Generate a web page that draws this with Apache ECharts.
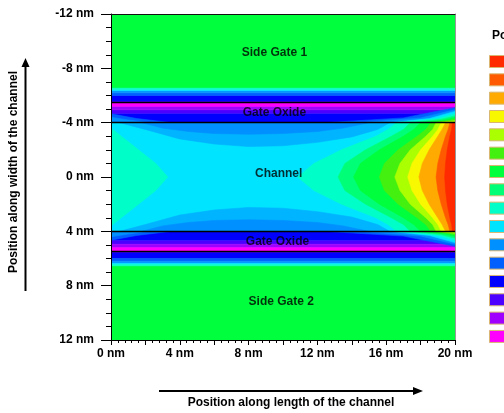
<!DOCTYPE html>
<html>
<head>
<meta charset="utf-8">
<script src="https://cdn.jsdelivr.net/npm/echarts@6/dist/echarts.min.js"></script>
<style>
html, body { margin: 0; padding: 0; background: #fff; }
#chart { width: 504px; height: 413px; }
</style>
</head>
<body>
<div id="chart"></div>
<script>
// ---- Potential levels: colour of each contour band, highest potential first ----
const levelColors = [
  '#ff2a00', '#ff5a00', '#ffaa00', '#f8f800', '#aaff00', '#44f010', '#00ff3c', '#00ff77',
  '#00ffc8', '#00e4ff', '#0090ff', '#0060ff', '#0000ff', '#4c00ff', '#a000ff', '#ff00ff'
];
const shallowBlue = '#00b4ff';      // band between the cyan core and the azure rim of the channel

// ---- Device geometry (nm) ----
const xRange = [0, 20];
const yRange = [-12, 12];
const channelHalfWidth = 4;
const oxideOuterEdge = 6.54;
const interfaceLines = [-5.5, -4, 4, 5.5];
const sideGateLevel = 6;

// ---- Gate oxide: bands by distance |y| from the channel axis ----
const oxideBandEdges  = [4.0, 4.7, 4.95, 5.2, 5.5, 5.6, 6.0, 6.2, 6.35, 6.45, 6.54];
const oxideBandLevels = [12, 13, 14, 15, 13, 12, 11, 10, 9, 8];

// Lighter wedges in the oxide at the drain end: [x, height above the channel edge]
const oxideDrainWedgeLevels = [11, 10, 9, 8, 7, 6, 5, 4];
const oxideDrainWedges = [
  [[12.5, 0], [17.0, 0.35], [20, 1.1]],
  [[14.5, 0], [18.0, 0.35], [20, 0.95]],
  [[16.2, 0], [18.5, 0.3], [20, 0.83]],
  [[16.6, 0], [19.0, 0.3], [20, 0.66]],
  [[17.4, 0], [19.2, 0.25], [20, 0.5]],
  [[18.0, 0], [19.4, 0.2], [20, 0.38]],
  [[18.6, 0], [19.6, 0.15], [20, 0.26]],
  [[18.9, 0], [20, 0.14]]
];
// Lighter wedges in the oxide at the source end
const oxideSourceWedgeLevels = [11, 10];
const oxideSourceWedges = [
  [[0, 0.65], [1.5, 0.3], [3.5, 0]],
  [[0, 0.4], [1.0, 0.2], [2.2, 0]]
];

// ---- Channel ----
const channelCoreLevel = 9;
// Source-side wedge: boundary x at each |y|
const sourceWedgeR = [3.6, 3, 2, 1, 0];
const sourceWedgeX = [0, 0.6, 1.6, 2.6, 3.3];
const sourceWedgeLevel = 8;
// Depletion arcs under the gates: |y| of the arc at each x
const shallowArcX = [0.5, 2, 4, 6, 8, 10, 12, 14, 15.5, 16.2];
const shallowArcR = [4, 3.5, 2.8, 2.43, 2.24, 2.3, 2.55, 2.95, 3.5, 4];
const rimArcX = [1.8, 3, 4.5, 6, 8, 10, 12, 13.5, 15];
const rimArcR = [4, 3.6, 3.35, 3.2, 3.15, 3.2, 3.35, 3.6, 4];
const rimArcLevel = 10;
// Drain-side contour fronts: x of each front at |y| = frontR
const frontR = [0, 1, 2, 3, 3.5, 4];
const frontLevels = [8, 7, 6, 5, 4, 3, 2, 1, 0];
const frontX = [
  [10.85, 11.8, 13.4, 15.4, 16.1, 16.6],
  [13.2, 13.6, 14.8, 16.3, 17.0, 17.4],
  [14.1, 14.5, 15.6, 17.0, 17.6, 18.0],
  [15.6, 15.9, 16.7, 17.8, 18.3, 18.6],
  [16.5, 16.8, 17.4, 18.3, 18.7, 18.9],
  [17.25, 17.5, 18.0, 18.7, 19.0, 19.2],
  [17.9, 18.1, 18.5, 19.0, 19.25, 19.45],
  [18.9, 19.0, 19.2, 19.45, 19.6, 19.7],
  [19.4, 19.45, 19.55, 19.7, 19.8, 19.85]
];

// ---- Region labels ----
const regionNames = ['Side Gate 1', 'Gate Oxide', 'Channel', 'Gate Oxide', 'Side Gate 2'];
const regionX = [9.5, 9.5, 9.75, 9.68, 9.9];
const regionY = [-9.15, -4.7, -0.24, 4.74, 9.15];

// ---- Axis ticks ----
const xTickStep = 2, xLabelStep = 4;
const yTickStep = 4;

// ================= build polygons =================
const layers = [];
function addPoly(points, color) { layers.push({ points, color }); }
function rect(x0, x1, y0, y1) { return [[x0, y0], [x1, y0], [x1, y1], [x0, y1]]; }

// side gates
addPoly(rect(xRange[0], xRange[1], yRange[0], -oxideOuterEdge), levelColors[sideGateLevel]);
addPoly(rect(xRange[0], xRange[1], oxideOuterEdge, yRange[1]), levelColors[sideGateLevel]);

// oxide bands, both gates
[-1, 1].forEach(s => {
  for (let i = 0; i < oxideBandLevels.length; i++) {
    addPoly(rect(xRange[0], xRange[1], s * oxideBandEdges[i], s * oxideBandEdges[i + 1]),
      levelColors[oxideBandLevels[i]]);
  }
  oxideDrainWedges.forEach((w, i) => {
    const pts = w.map(p => [p[0], s * (channelHalfWidth + p[1])]);
    pts.push([xRange[1], s * channelHalfWidth]);
    addPoly(pts, levelColors[oxideDrainWedgeLevels[i]]);
  });
  oxideSourceWedges.forEach((w, i) => {
    const pts = w.map(p => [p[0], s * (channelHalfWidth + p[1])]);
    pts.push([xRange[0], s * channelHalfWidth]);
    addPoly(pts, levelColors[oxideSourceWedgeLevels[i]]);
  });
});

// channel core
addPoly(rect(xRange[0], xRange[1], -channelHalfWidth, channelHalfWidth), levelColors[channelCoreLevel]);

// source wedge (mirrored about the channel axis)
(function () {
  const pts = [];
  sourceWedgeR.forEach((r, i) => pts.push([sourceWedgeX[i], -r]));
  for (let i = sourceWedgeR.length - 2; i >= 0; i--) pts.push([sourceWedgeX[i], sourceWedgeR[i]]);
  addPoly(pts, levelColors[sourceWedgeLevel]);
})();

// arcs along both gate interfaces
[-1, 1].forEach(s => {
  addPoly(shallowArcX.map((x, i) => [x, s * shallowArcR[i]]), shallowBlue);
  addPoly(rimArcX.map((x, i) => [x, s * rimArcR[i]]), levelColors[rimArcLevel]);
});

// drain-side fronts
frontX.forEach((xs, k) => {
  const pts = [];
  for (let i = frontR.length - 1; i >= 0; i--) pts.push([xs[i], -frontR[i]]);
  for (let i = 1; i < frontR.length; i++) pts.push([xs[i], frontR[i]]);
  pts.push([xRange[1], channelHalfWidth], [xRange[1], -channelHalfWidth]);
  addPoly(pts, levelColors[frontLevels[k]]);
});

// ================= chart =================
const font = 'Liberation Sans, Arial, sans-serif';
const chart = echarts.init(document.getElementById('chart'), null, { renderer: 'canvas' });

const legendGraphics = [{
  type: 'text', left: 492, top: 30,
  style: { text: 'Potential', font: 'bold 12px ' + font, fill: '#000' }
}];
levelColors.forEach((c, i) => {
  legendGraphics.push({
    type: 'rect', shape: { x: 489.5, y: 55.5 + i * 18.33, width: 24, height: 12 },
    style: { fill: c, stroke: '#d9b772', lineWidth: 1 }
  });
});

chart.setOption({
  animation: false,
  grid: { left: 111, top: 14, width: 344, height: 326, containLabel: false },
  xAxis: [{
    type: 'value', min: xRange[0], max: xRange[1], interval: xTickStep, position: 'bottom', z: 10,
    axisLine: { onZero: false, lineStyle: { color: '#000', width: 1 } },
    axisTick: { length: 5, lineStyle: { color: '#000' } },
    minorTick: { show: true, splitNumber: 5, length: 3, lineStyle: { color: '#000' } },
    splitLine: { show: false },
    axisLabel: {
      margin: 8, color: '#000', fontWeight: 'bold', fontSize: 12, fontFamily: font,
      formatter: v => (v % xLabelStep === 0 ? v + ' nm' : '')
    }
  }, {
    type: 'value', min: xRange[0], max: xRange[1], position: 'top', z: 10,
    axisLine: { onZero: false, lineStyle: { color: '#111', width: 1 } },
    axisTick: { show: false }, axisLabel: { show: false }, splitLine: { show: false }
  }],
  yAxis: [{
    type: 'value', min: yRange[0], max: yRange[1], interval: yTickStep, inverse: true, z: 10,
    axisLine: { onZero: false, lineStyle: { color: '#000', width: 1 } },
    axisTick: { length: 10, lineStyle: { color: '#000' } },
    minorTick: { show: true, splitNumber: 4, length: 5, lineStyle: { color: '#000' } },
    splitLine: { show: false },
    axisLabel: {
      margin: 17, color: '#000', fontWeight: 'bold', fontSize: 12, fontFamily: font,
      formatter: v => v + ' nm'
    }
  }, {
    type: 'value', min: yRange[0], max: yRange[1], inverse: true, position: 'right', z: 10,
    axisLine: { onZero: false, lineStyle: { color: '#999', width: 1 } },
    axisTick: { show: false }, axisLabel: { show: false }, splitLine: { show: false }
  }],
  series: [{
    type: 'custom',
    silent: true,
    clip: true,
    data: layers.map(l => l.points[0]),
    renderItem: (params, api) => {
      const layer = layers[params.dataIndex];
      return {
        type: 'polygon',
        shape: { points: layer.points.map(p => api.coord(p)) },
        style: { fill: layer.color, stroke: layer.color, lineWidth: 0.6 }
      };
    }
  }, {
    type: 'scatter',
    silent: true,
    symbolSize: 0,
    z: 5,
    data: regionNames.map((n, i) => ({ name: n, value: [regionX[i], regionY[i]] })),
    label: {
      show: true, position: 'inside', formatter: p => p.name,
      color: '#000', fontWeight: 'bold', fontSize: 12, fontFamily: font
    },
    markLine: {
      silent: true,
      symbol: 'none',
      label: { show: false },
      lineStyle: { color: '#000', width: 1.3, type: 'solid' },
      data: interfaceLines.map(y => ({ yAxis: y }))
    }
  }],
  graphic: [
    {
      type: 'text', x: 14, y: 172, rotation: Math.PI / 2,
      style: { text: 'Position along width of the channel', font: 'bold 12px ' + font, fill: '#000',
        align: 'center', verticalAlign: 'middle' }
    },
    { type: 'line', shape: { x1: 25.5, y1: 291, x2: 25.5, y2: 64 }, style: { stroke: '#000', lineWidth: 2 } },
    { type: 'polygon', shape: { points: [[25.5, 58], [21.5, 67], [29.5, 67]] }, style: { fill: '#000' } },
    {
      type: 'text', x: 291, y: 403,
      style: { text: 'Position along length of the channel', font: 'bold 12px ' + font, fill: '#000',
        align: 'center', verticalAlign: 'middle' }
    },
    { type: 'line', shape: { x1: 159, y1: 391, x2: 416, y2: 391 }, style: { stroke: '#000', lineWidth: 2 } },
    { type: 'polygon', shape: { points: [[423, 391], [413, 387], [413, 395]] }, style: { fill: '#000' } }
  ].concat(legendGraphics)
});
</script>
</body>
</html>
